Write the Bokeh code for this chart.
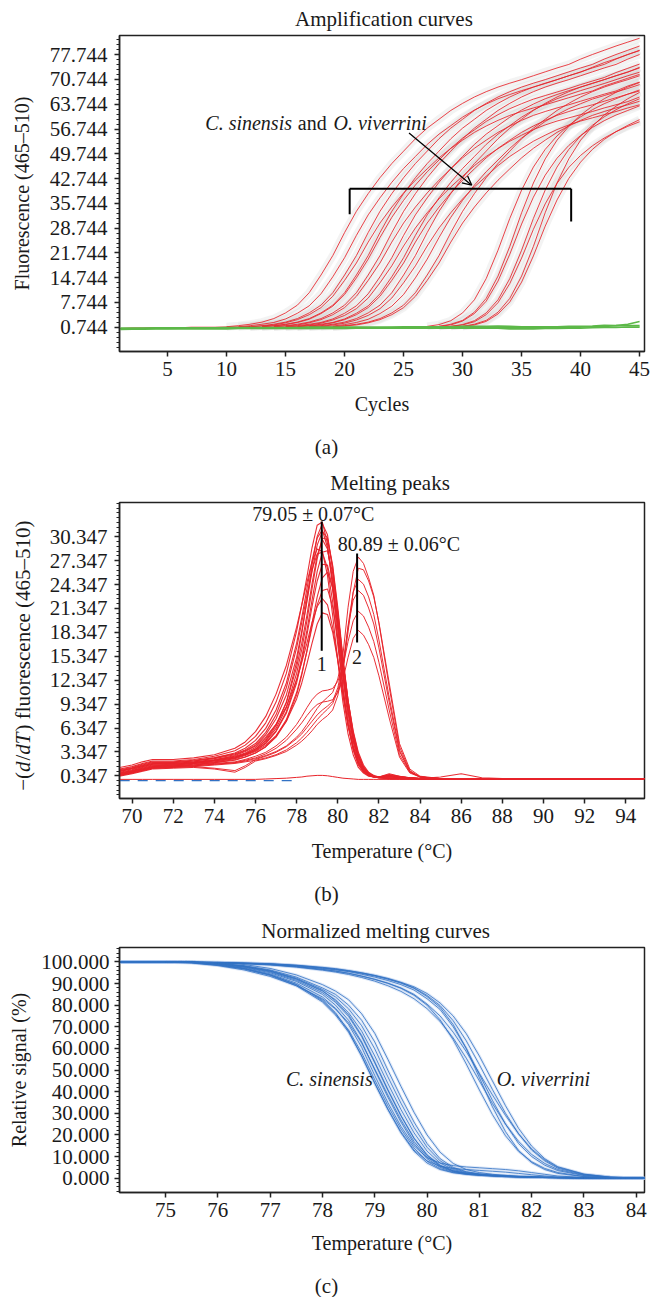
import math
from bokeh.plotting import figure
from bokeh.layouts import column, row
from bokeh.models import Range1d, FixedTicker, NumeralTickFormatter, Label, Arrow, OpenHead, Title
from bokeh.embed import file_html
from bokeh.resources import INLINE

FONT = "Liberation Serif"
RED = "#e8232a"
GREEN = "#5cb848"
BLUE = "#3272c4"
INK = "#1a1a1a"

# ---------------- (a) Amplification curves ----------------
AMP_XTICKS = [5, 10, 15, 20, 25, 30, 35, 40, 45]
AMP_YTICKS = [0.744, 7.744, 14.744, 21.744, 28.744, 35.744, 42.744, 49.744,
              56.744, 63.744, 70.744, 77.744]
AMP_EARLY_START = [10, 11, 12, 12, 13, 13, 14, 14, 15, 15, 16, 16, 17, 17, 18, 19, 19]
AMP_EARLY = [
    [0.9,1.2,1.6,2.2,3.2,4.8,7.0,10.5,15.5,21.0,27.5,33.5,38.5,43.0,47.0,50.5,54.0,57.0,59.5,62.0,64.0,65.8,67.3,68.6,69.7,70.7,71.8,72.9,74.0,75.0,76.5,77.8,79.0,80.2,81.3,82.4],
    [0.9,1.2,1.6,2.1,3.1,4.7,6.8,10.2,15.0,20.4,26.7,32.5,37.3,41.7,45.6,49.0,52.4,55.3,57.7,60.1,62.1,63.8,65.3,66.5,67.6,68.6,69.6,70.7,71.8,72.8,74.2,75.5,76.6,77.8,78.9],
    [0.9,1.2,1.6,2.2,3.2,4.8,7.0,10.5,15.5,21.0,27.5,33.5,38.5,43.0,47.0,50.5,54.0,57.0,59.5,62.0,64.0,65.8,67.3,68.6,69.7,70.7,71.8,72.9,74.0,75.0,76.5,77.8,79.0,80.2],
    [0.9,1.1,1.4,2.0,2.9,4.3,6.3,9.5,14.0,18.9,24.8,30.2,34.7,38.7,42.3,45.5,48.6,51.3,53.6,55.8,57.6,59.2,60.6,61.7,62.7,63.6,64.6,65.6,66.6,67.5,68.9,70.0,71.1,72.2],
    [0.9,1.1,1.5,2.1,3.0,4.6,6.7,10.0,14.7,20.0,26.1,31.8,36.6,40.9,44.7,48.0,51.3,54.2,56.5,58.9,60.8,62.5,63.9,65.2,66.2,67.2,68.2,69.3,70.3,71.3,72.7,73.9,75.1],
    [0.9,1.2,1.6,2.2,3.2,4.8,7.0,10.5,15.5,21.0,27.5,33.5,38.5,43.0,47.0,50.5,54.0,57.0,59.5,62.0,64.0,65.8,67.3,68.6,69.7,70.7,71.8,72.9,74.0,75.0,76.5,77.8,79.0],
    [0.9,1.1,1.4,2.0,2.9,4.3,6.3,9.5,14.0,18.9,24.8,30.2,34.7,38.7,42.3,45.5,48.6,51.3,53.6,55.8,57.6,59.2,60.6,61.7,62.7,63.6,64.6,65.6,66.6,67.5,68.9,70.0],
    [0.9,1.2,1.6,2.2,3.2,4.8,7.0,10.5,15.5,21.0,27.5,33.5,38.5,43.0,47.0,50.5,54.0,57.0,59.5,62.0,64.0,65.8,67.3,68.6,69.7,70.7,71.8,72.9,74.0,75.0,76.5,77.8],
    [0.9,1.2,1.6,2.1,3.1,4.7,6.8,10.2,15.0,20.4,26.7,32.5,37.3,41.7,45.6,49.0,52.4,55.3,57.7,60.1,62.1,63.8,65.3,66.5,67.6,68.6,69.6,70.7,71.8,72.8,74.2],
    [0.9,1.0,1.4,1.9,2.8,4.1,6.0,9.0,13.3,18.1,23.7,28.8,33.1,37.0,40.4,43.4,46.4,49.0,51.2,53.3,55.0,56.6,57.9,59.0,59.9,60.8,61.7,62.7,63.6,64.5,65.8],
    [0.9,1.2,1.6,2.1,3.1,4.7,6.8,10.2,15.0,20.4,26.7,32.5,37.3,41.7,45.6,49.0,52.4,55.3,57.7,60.1,62.1,63.8,65.3,66.5,67.6,68.6,69.6,70.7,71.8,72.8],
    [0.9,1.1,1.4,2.0,2.9,4.3,6.3,9.5,14.0,18.9,24.8,30.2,34.7,38.7,42.3,45.5,48.6,51.3,53.6,55.8,57.6,59.2,60.6,61.7,62.7,63.6,64.6,65.6,66.6,67.5],
    [0.9,1.2,1.6,2.2,3.2,4.8,7.0,10.5,15.5,21.0,27.5,33.5,38.5,43.0,47.0,50.5,54.0,57.0,59.5,62.0,64.0,65.8,67.3,68.6,69.7,70.7,71.8,72.9,74.0],
    [0.9,1.0,1.4,1.9,2.8,4.1,6.0,9.0,13.3,18.1,23.7,28.8,33.1,37.0,40.4,43.4,46.4,49.0,51.2,53.3,55.0,56.6,57.9,59.0,59.9,60.8,61.7,62.7,63.6],
    [0.9,1.1,1.5,2.1,3.0,4.6,6.7,10.0,14.7,20.0,26.1,31.8,36.6,40.9,44.7,48.0,51.3,54.2,56.5,58.9,60.8,62.5,63.9,65.2,66.2,67.2,68.2,69.3],
    [0.9,1.2,1.6,2.2,3.2,4.8,7.0,10.5,15.5,21.0,27.5,33.5,38.5,43.0,47.0,50.5,54.0,57.0,59.5,62.0,64.0,65.8,67.3,68.6,69.7,70.7,71.8],
    [0.9,1.1,1.4,2.0,2.9,4.3,6.3,9.5,14.0,18.9,24.8,30.2,34.7,38.7,42.3,45.5,48.6,51.3,53.6,55.8,57.6,59.2,60.6,61.7,62.7,63.6,64.6],
]
AMP_LATE_START = [27, 28, 29, 29, 30, 30, 28]
AMP_LATE = [
    [1.0,1.5,2.6,4.8,8.5,14.5,22.5,31.5,39.5,46.0,51.0,54.8,57.8,60.2,62.2,63.9,65.3,66.6,67.8],
    [1.0,1.4,2.5,4.6,8.1,13.8,21.4,29.9,37.5,43.7,48.5,52.1,54.9,57.2,59.1,60.7,62.0,63.3],
    [1.0,1.5,2.6,4.8,8.5,14.5,22.5,31.5,39.5,46.0,51.0,54.8,57.8,60.2,62.2,63.9,65.3],
    [1.0,1.4,2.3,4.3,7.7,13.1,20.3,28.4,35.6,41.4,45.9,49.3,52.0,54.2,56.0,57.5,58.8],
    [1.0,1.6,2.7,5.0,8.9,15.2,23.6,33.1,41.5,48.3,53.6,57.5,60.7,63.2,65.3,67.1],
    [1.0,1.4,2.4,4.5,7.9,13.5,20.9,29.3,36.7,42.8,47.4,51.0,53.8,56.0,57.8,59.4],
    [1.0,1.6,2.7,5.0,8.9,15.2,23.6,33.1,41.5,48.3,53.6,57.5,60.7,63.2,65.3,67.1,68.6,69.9],
]
AMP_RED_BASE = [0.4,0.5,0.5,0.6,0.6,0.6,0.7,0.7,0.7,0.8,0.8,0.9]  # cycles 1..12
AMP_NEG = [
    [0.3,0.3,0.4,0.4,0.4,0.5,0.5,0.5,0.5,0.5,0.5,0.5,0.6,0.6,0.6,0.6,0.6,0.6,0.6,0.6,0.6,0.6,0.6,0.7,0.7,0.7,0.7,0.7,0.7,0.8,0.8,0.8,0.8,0.6,0.6,0.6,0.7,0.7,0.8,0.8,0.9,1.0,1.2,1.6,2.4],
    [0.5,0.5,0.5,0.6,0.6,0.6,0.6,0.6,0.6,0.7,0.7,0.7,0.7,0.7,0.7,0.7,0.8,0.8,0.8,0.8,0.8,0.8,0.8,0.8,0.9,0.9,0.9,0.9,0.9,1.0,1.0,1.0,1.1,1.0,0.9,0.9,0.9,0.9,1.0,1.0,1.1,1.3,1.2,1.2,1.2],
    [0.1,0.2,0.2,0.3,0.3,0.3,0.3,0.3,0.3,0.3,0.4,0.4,0.4,0.4,0.4,0.4,0.4,0.4,0.4,0.4,0.5,0.5,0.5,0.5,0.5,0.5,0.5,0.5,0.5,0.5,0.5,0.5,0.5,0.3,0.3,0.3,0.4,0.4,0.5,0.5,0.6,0.7,0.7,0.8,0.8],
]

# ---------------- (b) Melting peaks ----------------
MP_XTICKS = [70, 72, 74, 76, 78, 80, 82, 84, 86, 88, 90, 92, 94]
MP_YTICKS = [0.347, 3.347, 6.347, 9.347, 12.347, 15.347, 18.347, 21.347, 24.347, 27.347, 30.347]
MP_T = [69.4,70.0,70.5,71.0,72.0,73.0,74.0,75.0,75.5,76.0,76.5,77.0,77.5,78.0,78.25,78.5,78.75,79.0,79.25,79.5,
        79.75,80.0,80.25,80.5,80.75,81.0,81.25,81.5,81.75,82.0,82.5,83.0,83.5,84.0,85.0,86.0,87.0,88.0,90.0,92.0,94.9]
MP_CS = [
    [1.2,1.5,1.9,2.2,2.2,2.4,2.8,3.5,4.2,5.3,7.0,9.6,13.2,18.5,21.8,25.3,29.0,31.8,32.2,29.5,24.0,17.5,11.5,6.8,3.6,1.7,0.8,0.4,0.2,0.1,0.1,0.0,0.0,0,0,0,0,0,0,0,0],
    [0.8,1.1,1.5,1.8,1.9,2.1,2.4,2.8,3.2,3.9,5.0,6.8,9.5,14.0,17.0,20.5,24.5,28.0,30.0,28.8,25.0,19.5,13.5,8.5,4.8,2.5,1.2,0.6,0.3,0.2,0.3,0.2,0.1,0,0,0,0,0,0,0,0],
    [0.6,0.9,1.2,1.5,1.7,1.9,2.2,2.6,3.0,3.5,4.4,5.9,8.2,12.0,14.8,18.0,21.6,24.8,26.9,26.8,23.8,19.0,13.5,8.8,5.2,2.8,1.4,0.7,0.3,0.2,0.4,0.2,0.1,0,0,0,0,0,0,0,0],
    [0.9,1.3,1.7,2.0,2.0,2.2,2.5,3.0,3.5,4.2,5.5,7.5,10.5,15.2,18.5,22.2,26.0,29.3,31.0,30.2,26.8,21.5,15.2,9.8,5.6,2.9,1.4,0.7,0.3,0.2,0.2,0.1,0.0,0,0,0,0,0,0,0,0],
    [0.5,0.8,1.1,1.4,1.6,1.8,2.0,2.3,2.7,3.2,4.0,5.3,7.4,10.8,13.2,16.0,19.0,21.8,23.6,23.8,21.6,17.6,12.8,8.4,5.0,2.7,1.3,0.6,0.3,0.2,0.5,0.3,0.1,0,0,0,0,0,0,0,0],
    [1.4,1.7,2.1,2.4,2.4,2.6,3.0,3.8,4.6,5.9,7.8,10.6,14.2,19.0,21.8,24.6,27.2,28.8,28.5,25.5,20.5,14.8,9.6,5.6,3.0,1.4,0.7,0.3,0.2,0.1,0.0,0.0,0.0,0,0,0,0,0,0,0,0],
    [0.7,1.0,1.3,1.6,1.7,1.9,2.1,2.5,2.9,3.4,4.2,5.4,7.2,10.0,12.0,14.4,17.0,19.4,20.8,20.6,18.4,14.8,10.6,6.8,4.0,2.2,1.1,0.5,0.3,0.2,0.6,0.3,0.1,0,0,0,0,0,0,0,0],
    [1.0,1.3,1.6,1.9,1.9,2.0,2.3,2.7,3.1,3.7,4.8,6.6,9.6,14.6,18.2,22.4,26.8,30.4,32.0,30.6,26.2,20.2,13.8,8.4,4.6,2.2,1.0,0.5,0.2,0.1,0.0,0.0,0.0,0,0,0,0,0,0,0,0],
    [0.4,0.7,1.0,1.3,1.5,1.7,2.0,2.4,2.7,3.2,4.0,5.2,7.2,10.5,13.0,16.0,19.5,22.8,25.2,25.9,24.0,19.8,14.6,9.8,6.0,3.3,1.7,0.8,0.4,0.2,0.3,0.2,0.1,0.0,0.2,0.6,0.1,0,0,0,0],
    [1.1,1.4,1.8,2.1,2.1,2.3,2.6,3.1,3.6,4.4,5.8,8.0,11.4,16.4,19.6,23.0,26.2,28.2,28.4,26.4,22.2,16.8,11.2,6.8,3.7,1.8,0.9,0.4,0.2,0.1,0.0,0.0,0.0,0,0,0,0,0,0,0,0],
    [0.9,1.2,1.5,1.8,1.8,2.0,2.3,2.9,3.4,4.1,5.2,6.8,9.0,12.4,14.6,17.0,19.6,21.6,22.6,21.8,19.0,15.0,10.5,6.6,3.8,2.0,1.0,0.5,0.3,0.2,0.4,0.2,0.0,0,0,0,0,0,0,0,0],
    [0.7,1.0,1.4,1.7,1.8,2.0,2.3,2.7,3.1,3.7,4.7,6.3,8.9,13.2,16.2,19.8,23.8,27.6,30.2,30.0,26.6,21.0,14.8,9.4,5.3,2.7,1.3,0.6,0.3,0.2,0.2,0.1,0.0,0,0,0,0,0,0,0,0],
    [1.0,1.3,1.6,1.9,2.0,2.2,2.6,3.2,3.8,4.8,6.3,8.6,12.0,17.0,20.2,23.8,27.4,30.2,31.2,29.0,24.6,18.6,12.6,7.6,4.1,2.0,0.9,0.4,0.2,0.1,0.1,0.0,0.0,0,0,0,0,0,0,0,0],
    [0.6,0.9,1.3,1.6,1.7,1.9,2.2,2.6,3.0,3.6,4.5,6.0,8.4,12.4,15.2,18.6,22.4,26.0,28.4,28.6,25.8,20.8,15.0,9.8,5.8,3.1,1.5,0.7,0.3,0.2,0.3,0.2,0.1,0,0,0,0,0,0,0,0],
]
MP_OV = [
    [0.5,0.8,1.1,1.4,1.5,1.6,1.8,2.0,2.2,2.5,2.9,3.4,4.1,5.2,5.9,6.8,7.8,8.8,9.6,10.2,10.8,12.5,15.5,21.5,26.0,27.8,27.0,25.2,23.0,19.5,11.5,4.0,1.0,0.2,0,0,0,0,0,0,0],
    [0.3,0.6,0.9,1.2,1.3,1.4,1.2,0.8,1.4,2.2,2.5,2.9,3.4,4.2,4.7,5.3,6.0,6.8,7.4,7.9,8.6,10.4,13.6,19.2,23.4,25.0,24.4,22.8,20.6,17.4,10.2,3.6,0.9,0.2,0,0,0,0,0,0,0],
    [0.6,0.9,1.2,1.5,1.6,1.7,1.9,2.1,2.4,2.8,3.3,4.1,5.2,6.8,7.8,8.9,9.9,10.6,11.0,11.1,11.3,12.2,14.0,17.2,19.8,21.0,20.4,19.0,17.2,14.6,8.6,3.0,0.8,0.2,0,0,0,0,0,0,0],
    [0.4,0.7,1.0,1.3,1.4,1.5,1.7,1.9,2.1,2.3,2.6,3.0,3.6,4.5,5.1,5.8,6.6,7.4,8.1,8.7,9.4,11.0,13.6,18.4,23.4,26.4,26.2,24.8,22.8,19.6,12.0,4.4,1.2,0.3,0,0,0,0,0,0,0],
    [0.5,0.8,1.1,1.4,1.5,1.6,1.8,2.0,2.3,2.6,3.1,3.8,4.8,6.2,7.0,7.9,8.7,9.3,9.6,9.7,9.9,10.8,12.4,15.2,17.6,18.6,18.0,16.8,15.2,12.9,7.6,2.7,0.7,0.2,0,0,0,0,0,0,0],
    [0.4,0.7,1.0,1.3,1.4,1.5,1.3,1.0,1.6,2.4,2.8,3.3,4.0,5.0,5.6,6.4,7.2,8.0,8.6,9.1,9.7,11.4,14.4,19.0,22.4,23.6,23.0,21.4,19.4,16.4,9.6,3.4,0.9,0.2,0,0,0,0,0,0,0],
]
MP_NEG = [-0.1,-0.1,-0.1,-0.1,-0.1,-0.1,-0.1,-0.1,-0.1,-0.1,-0.05,0.0,0.05,0.15,0.2,0.3,0.35,0.4,0.4,0.35,
          0.25,0.15,0.05,0.0,-0.05,-0.1,-0.1,-0.1,-0.1,-0.1,-0.1,-0.1,-0.1,-0.1,-0.1,-0.1,-0.1,-0.1,-0.1,-0.1,-0.1]
MP_NEG_BLUE = [-0.25,-0.25,-0.25,-0.25,-0.25,-0.25,-0.25,-0.25,-0.25,-0.25,-0.25,-0.25,-0.25,-0.25]  # 69.4..78.0

# ---------------- (c) Normalized melting curves ----------------
NM_XTICKS = [75, 76, 77, 78, 79, 80, 81, 82, 83, 84]
NM_YTICKS = [0, 10, 20, 30, 40, 50, 60, 70, 80, 90, 100]
NM_T = [74.1,75.0,75.5,76.0,76.5,77.0,77.5,78.0,78.25,78.5,78.75,79.0,79.25,79.5,79.75,80.0,80.25,80.5,80.75,
        81.0,81.25,81.5,81.75,82.0,82.25,82.5,83.0,83.5,84.16]
NM_CS = [
    [100,100,99.8,99.0,97.5,95.0,91.0,85.0,80.0,73.0,63.0,50.0,37.5,26.0,16.0,9.0,5.0,3.0,2.0,1.5,1.1,0.8,0.6,0.4,0.3,0.2,0.1,0.0,0.0],
    [100,100,99.7,98.7,97.0,94.1,89.6,82.5,76.5,68.0,56.5,43.8,31.8,21.0,12.5,7.0,4.0,2.5,1.8,1.3,1.0,0.7,0.5,0.4,0.3,0.2,0.1,0.0,0.0],
    [100,100,99.9,99.4,98.3,96.3,93.0,88.0,85.0,80.0,73.0,63.0,50.0,37.5,26.0,16.0,9.0,5.0,3.0,2.0,1.5,1.1,0.8,0.6,0.4,0.3,0.1,0.0,0.0],
    [100,100,99.9,99.1,97.7,95.4,91.5,85.8,81.3,74.8,65.5,53.3,40.7,28.9,18.5,10.8,6.0,3.5,2.3,1.7,1.2,0.9,0.7,0.5,0.4,0.3,0.1,0.0,0.0],
    [100,100,99.9,99.2,97.9,95.7,92.0,86.5,82.5,76.5,68.0,56.5,43.8,31.8,21.0,12.5,7.0,4.0,2.5,1.8,1.3,1.0,0.7,0.5,0.4,0.3,0.1,0.0,0.0],
    [100,100,99.9,99.3,98.1,96.0,92.5,87.3,83.8,78.3,70.5,59.8,46.9,34.7,23.5,14.3,8.0,4.5,2.8,1.9,1.4,1.1,0.8,0.6,0.4,0.3,0.1,0.0,0.0],
    [100,100,99.9,99.6,98.8,97.0,94.0,89.5,86.5,82.5,76.0,67.0,55.0,42.5,30.5,20.0,12.0,6.8,4.0,2.6,1.8,1.3,0.9,0.7,0.5,0.3,0.1,0.0,0.0],
    [100,100,99.8,98.9,97.2,94.5,90.2,83.8,78.5,71.0,60.5,47.5,35.0,24.0,15.0,9.5,7.0,5.8,5.2,4.8,4.4,4.0,3.4,2.6,1.8,1.0,0.3,0.0,0.0],
    [100,100,99.7,98.6,96.8,93.8,89.0,81.5,75.5,67.5,56.5,44.0,32.0,21.5,13.0,8.0,5.5,4.5,4.0,3.6,3.2,2.8,2.2,1.6,1.0,0.6,0.2,0.0,0.0],
    [100,99.9,99.5,98.3,96.3,93.3,89.0,83.0,78.2,71.8,62.5,50.5,38.5,27.0,17.0,9.8,5.5,3.2,2.1,1.5,1.1,0.8,0.6,0.4,0.3,0.2,0.1,0.0,0.0],
    [100,100,99.9,99.3,98.0,95.8,92.2,86.8,82.0,75.5,66.0,53.8,41.0,29.0,18.5,10.5,5.8,3.4,2.2,1.6,1.2,0.9,0.6,0.4,0.3,0.2,0.1,0.0,0.0],
    [100,100,99.6,98.5,96.8,94.0,89.5,82.0,76.0,68.5,58.0,45.5,33.5,22.8,14.0,7.8,4.4,2.7,1.8,1.3,1.0,0.7,0.5,0.4,0.3,0.2,0.1,0.0,0.0],
]
NM_OV = [
    [100,100,99.9,99.7,99.4,99.0,98.2,97.0,96.3,95.5,94.3,93.0,91.4,89.5,87.0,83.0,78.0,70.0,60.0,48.0,36.0,25.0,16.0,10.0,6.0,3.5,1.2,0.3,0.0],
    [100,100,99.9,99.6,99.2,98.7,97.8,96.5,95.7,94.7,93.4,91.9,90.1,87.8,84.6,80.0,73.2,64.0,52.8,40.8,29.4,19.6,12.4,7.6,4.5,2.6,0.8,0.2,0.0],
    [100,100,99.9,99.8,99.5,99.2,98.5,97.5,96.9,96.0,95.0,93.8,92.4,90.6,88.5,85.4,81.0,75.0,66.8,56.5,45.0,33.5,23.0,14.8,9.0,5.3,1.9,0.5,0.0],
    [100,100,99.9,99.7,99.3,98.8,97.9,96.6,95.8,94.8,93.5,92.0,90.2,88.0,85.0,80.5,75.0,67.5,58.5,48.5,38.5,29.0,20.5,13.5,8.5,5.0,1.8,0.5,0.0],
    [100,100,99.9,99.7,99.4,99.0,98.3,97.2,96.5,95.7,94.7,93.5,92.0,90.2,87.8,84.0,79.0,71.0,60.0,46.5,33.0,21.5,12.8,7.2,4.0,2.2,0.7,0.2,0.0],
    [100,100,99.9,99.6,99.2,98.6,97.6,96.2,95.3,94.2,92.8,91.1,89.0,86.4,83.0,78.4,72.5,64.8,55.5,45.0,34.5,25.0,17.0,11.0,6.8,4.0,1.4,0.4,0.0],
    [100,100,99.9,99.8,99.5,99.1,98.4,97.3,96.7,95.9,94.9,93.7,92.2,90.4,88.0,84.5,79.8,72.8,63.5,52.5,41.0,30.0,20.5,13.0,8.0,4.6,1.6,0.4,0.0],
]

TICK_FS = "21px"
TEXT_FS = "20px"
TITLE_FS = "21px"
FRAME_L = 119   # left edge of every plot frame
FRAME_R = 10    # space right of every plot frame
PAGE_W = 654


def make_fig(w, h, xr, yr, bl, br, bt, bb, yticks, minor, xticks, fmt):
    p = figure(width=w, height=h, x_range=Range1d(*xr), y_range=Range1d(*yr),
               output_backend="svg", toolbar_location=None, tools="",
               min_border_left=bl, min_border_right=br, min_border_top=bt, min_border_bottom=bb)
    p.xgrid.visible = False
    p.ygrid.visible = False
    p.outline_line_color = "#222222"
    p.outline_line_width = 1.5
    p.background_fill_color = "white"
    p.border_fill_color = "white"
    p.xaxis.ticker = FixedTicker(ticks=xticks)
    p.yaxis.ticker = FixedTicker(ticks=yticks, minor_ticks=minor)
    p.yaxis.formatter = NumeralTickFormatter(format=fmt)
    for ax in (p.xaxis[0], p.yaxis[0]):
        ax.axis_line_color = "#222222"
        ax.axis_line_width = 1.5
        ax.major_tick_line_color = "#222222"
        ax.major_tick_line_width = 1.5
        ax.major_tick_out = 5
        ax.major_tick_in = 0
        ax.major_label_text_font = FONT
        ax.major_label_text_font_size = TICK_FS
        ax.major_label_text_color = INK
        ax.axis_label_text_font = FONT
        ax.axis_label_text_font_size = TEXT_FS
        ax.axis_label_text_font_style = "normal"
        ax.axis_label_text_color = INK
    p.xaxis.minor_tick_line_color = None
    p.yaxis.minor_tick_out = 3
    p.yaxis.minor_tick_in = 0
    p.yaxis.minor_tick_line_color = "#222222"
    p.yaxis.minor_tick_line_width = 1.2
    p.xaxis.major_label_standoff = 5
    p.yaxis.major_label_standoff = 7
    return p


def lab(p, x, y, text, align="center", italic=False, size=TEXT_FS, angle=0.0):
    p.add_layout(Label(x=x, y=y, text=text, text_font=FONT, text_font_size=size,
                       text_font_style="italic" if italic else "normal", text_color=INK,
                       text_align=align, text_baseline="middle", angle=angle))


def title(p, text, offset, standoff):
    p.add_layout(Title(text=text, align="left", offset=offset, standoff=standoff,
                       text_font=FONT, text_font_size=TITLE_FS, text_font_style="normal",
                       text_color=INK), "above")


def caption(h, y_local, text):
    # blank strip whose data units are page pixels (x) and pixels from the strip's top (y)
    c = figure(width=PAGE_W, height=h, x_range=Range1d(FRAME_L, PAGE_W - FRAME_R), y_range=Range1d(h, 0),
               output_backend="svg", toolbar_location=None, tools="",
               x_axis_location=None, y_axis_location=None,
               min_border_left=FRAME_L, min_border_right=FRAME_R, min_border_top=0, min_border_bottom=0)
    c.xgrid.visible = False
    c.ygrid.visible = False
    c.outline_line_color = None
    lab(c, 326, y_local, text, size=TITLE_FS)
    return c


# ---------- figure (a) ----------
minor_a = [0.744 + 1.4 * k for k in range(-4, 60)]
p1 = make_fig(PAGE_W, 430, (0.924, 45.415), (-6.1, 83.17), FRAME_L, FRAME_R, 34, 79,
              AMP_YTICKS, minor_a, AMP_XTICKS, "0.000")
p1.xaxis.axis_label = "Cycles"
p1.yaxis.axis_label = "Fluorescence (465–510)"
p1.yaxis.axis_label_standoff = 14
p1.xaxis.axis_label_standoff = 14
title(p1, "Amplification curves", 175.5, 9)

xs_amp = [list(range(s, s + len(v))) for s, v in zip(AMP_EARLY_START + AMP_LATE_START, AMP_EARLY + AMP_LATE)]
ys_amp = AMP_EARLY + AMP_LATE
p1.multi_line(xs_amp, ys_amp, line_color="#c4c4c4", line_width=8, line_alpha=0.2)
p1.line(list(range(1, 13)), AMP_RED_BASE, line_color=RED, line_width=1.2)
p1.multi_line(xs_amp, ys_amp, line_color=RED, line_width=0.9, line_alpha=0.95)
p1.multi_line([list(range(1, 46))] * len(AMP_NEG), AMP_NEG, line_color=GREEN, line_width=1.6)

p1.segment(x0=[20.43, 20.43, 39.2], y0=[39.9, 39.9, 39.9], x1=[39.2, 20.43, 39.2], y1=[39.9, 32.7, 30.6],
           line_color="black", line_width=2)
p1.add_layout(Arrow(end=OpenHead(size=9, line_width=1.3, line_color="black"),
                    x_start=25.46, y_start=55.6, x_end=30.77, y_end=40.9,
                    line_width=1.3, line_color="black"))
lab(p1, 15.54, 58.4, "C. sinensis", align="right", italic=True)
lab(p1, 17.26, 58.4, "and")
lab(p1, 19.06, 58.4, "O. viverrini", align="left", italic=True)

cap_a = caption(30, 16.5, "(a)")

# ---------- figure (b) ----------
SIDE_W = 40
H_B = 420
minor_b = [0.347 + 0.6 * k for k in range(-5, 60)]
yr_b = (-2.5, 34.65)
p2 = make_fig(PAGE_W - SIDE_W, H_B, (69.39, 94.91), yr_b, FRAME_L - SIDE_W, FRAME_R, 42, 82,
              MP_YTICKS, minor_b, MP_XTICKS, "0.000")
p2.xaxis.axis_label = "Temperature (°C)"
p2.xaxis.axis_label_standoff = 14
title(p2, "Melting peaks", 210.8, 16)
p2.line(MP_T[:14], MP_NEG_BLUE, line_color=BLUE, line_width=1.2, line_dash="10 8")
p2.line(MP_T, MP_NEG, line_color=RED, line_width=1.0)
p2.multi_line([MP_T] * len(MP_OV), MP_OV, line_color=RED, line_width=1.0, line_alpha=0.95)
p2.multi_line([MP_T] * len(MP_CS), MP_CS, line_color=RED, line_width=1.1, line_alpha=0.95)
p2.segment(x0=[79.22, 80.94], y0=[32.27, 28.25], x1=[79.22, 80.94], y1=[16.04, 17.08],
           line_color="black", line_width=2)
lab(p2, 79.22, 14.44, "1")
lab(p2, 80.94, 15.2, "2")
lab(p2, 78.81, 33.2, "79.05 ± 0.07°C")
lab(p2, 82.97, 29.43, "80.89 ± 0.06°C")

# side strip (same vertical frame as (b)) carrying the rotated y label with italic parts
side = figure(width=SIDE_W, height=H_B, x_range=Range1d(0, SIDE_W), y_range=Range1d(*yr_b),
              output_backend="svg", toolbar_location=None, tools="",
              x_axis_location=None, y_axis_location=None,
              min_border_left=0, min_border_right=0, min_border_top=42, min_border_bottom=82)
side.xgrid.visible = False
side.ygrid.visible = False
side.outline_line_color = None
PX_PER_UNIT_B = 296.0 / (yr_b[1] - yr_b[0])
pieces = [("−(", False, 18.8), ("d", True, 11.5), ("/", False, 5.8), ("dT", True, 23.2),
          (") fluorescence (465–510)", False, 0.0)]
yy = -1.54
for txt, it, wpx in pieces:
    lab(side, 22, yy, txt, align="left", italic=it, size="21px", angle=math.pi / 2)
    yy += wpx / PX_PER_UNIT_B

cap_b = caption(32, 13.3, "(b)")

# ---------- figure (c) ----------
minor_c = [2.0 * k for k in range(-3, 54)]
p3 = make_fig(PAGE_W, 355, (74.12, 84.157), (-6.62, 106.67), FRAME_L, FRAME_R, 35, 75,
              NM_YTICKS, minor_c, NM_XTICKS, "0.000")
p3.xaxis.axis_label = "Temperature (°C)"
p3.yaxis.axis_label = "Relative signal (%)"
p3.yaxis.axis_label_standoff = 8
p3.yaxis.major_label_standoff = 5
p3.xaxis.axis_label_standoff = 12
title(p3, "Normalized melting curves", 141.8, 9)
all_c = NM_CS + NM_OV
p3.multi_line([NM_T] * len(all_c), all_c, line_color="#a8c4ea", line_width=3, line_alpha=0.35)
p3.multi_line([NM_T] * len(all_c), all_c, line_color=BLUE, line_width=0.9, line_alpha=0.9)
lab(p3, 78.96, 45.7, "C. sinensis", align="right", italic=True)
lab(p3, 81.33, 45.7, "O. viverrini", align="left", italic=True)

cap_c = caption(30, 18, "(c)")

layout = column(p1, cap_a, row(side, p2), cap_b, p3, cap_c)
open("out.html", "w").write(file_html(layout, INLINE))
